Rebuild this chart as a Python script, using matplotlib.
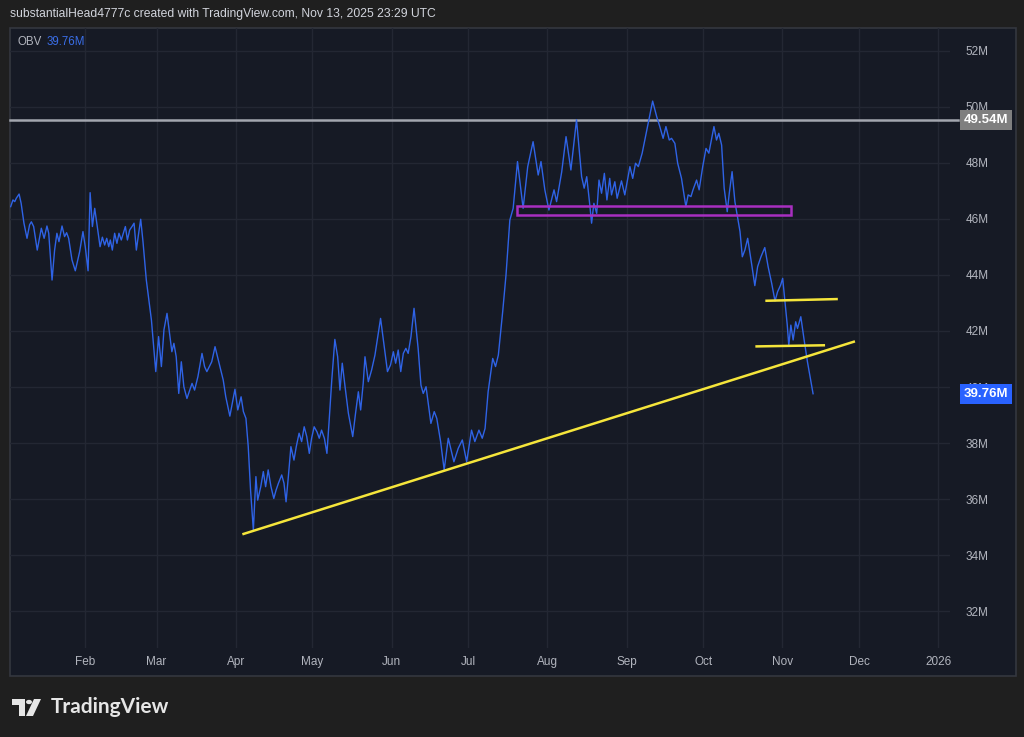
import numpy as np
import pandas as pd
import matplotlib
matplotlib.use("Agg")
import matplotlib.pyplot as plt
from matplotlib.patches import Rectangle, Polygon, Circle

# OBV, millions; x = days since 2025-01-01
days = [1.9, 2.8, 3.5, 4.1, 5.2, 6, 7.1, 8.3, 9.3, 10, 10.9, 12.3, 13.9, 15, 16.1,
        16.8, 18.1, 19.1, 20, 20.8, 22, 23, 23.8, 24.6, 25.9, 27.2, 28.9, 30.2, 31.1, 32.2,
        33, 33.9, 34.8, 35.8, 36.9, 37.8, 38.7, 39.5, 40.3, 40.9, 41.7, 42.6, 43.5, 44.3, 45.2,
        46, 46.8, 47.6, 48.5, 49.4, 50.2, 51.1, 52, 52.8, 53.7, 55, 57, 58.7, 59.8, 60.9,
        61.9, 63.1, 64.1, 65, 65.8, 66.7, 67.7, 68.7, 69.7, 70.9, 72, 72.9, 73.9, 75.2, 76.8,
        77.8, 78.7,
        80.6, 81.9, 83.8, 85.1, 86.1, 87.7, 89.7, 90.8, 92.1, 93, 94, 94.9, 95.8, 96.9, 97.9,
        98.6, 99.8, 100.8, 101.7, 102.7, 103.8, 104.9, 105.8, 106.7, 108, 108.9, 109.7, 110.6, 111.6, 112.8,
        113.7, 114.8, 115.8, 116.8, 117.8, 118.8, 119.7, 120.7, 121.8, 122.7, 123.6, 124.7, 125.7, 126.5, 127.6,
        128.8, 129.9, 130.8, 131.7, 132.8, 134.1, 135.8, 136.9, 138, 138.9, 139.9, 140.6, 141.9, 143.2, 144.5,
        145.6, 146.7, 147.8, 149.4, 150.6, 151.7, 152.6, 153.6, 154.6, 155.6, 156.6, 157.5, 158.6,
        159.8, 161.4, 162.5, 163.4, 164.5, 166.4, 167.7, 168.7, 170.2, 171.6, 173.2, 175.4, 177.1, 178.7, 180.4,
        182.3, 183.6, 185.2, 186.5, 187.6, 188.8, 190.6, 191.7, 192.8, 194.5, 195.8, 197.3, 198.6, 200.3, 202.5,
        204.3, 206.4, 208.4, 209.5, 211, 212.6, 214.6, 215.6, 217.6, 219.3, 221.2, 223.4, 225.4, 226.4, 227.4,
        228.6, 229.3, 230.2, 231.3, 232.2, 233.2, 234.3, 235.3, 236.4, 237.1, 238.4,
        239.3, 241, 242.3, 244.3, 245.4, 246.5, 247.6, 249.1, 250.8, 252.1, 253.2, 254.8, 256, 257.3, 258.4,
        259.7, 260.6, 261.9, 263, 264.5, 266.2, 267.1, 268.2, 269, 270.4, 271.4, 272.8, 274.1, 275.2, 277.2,
        278.2, 279.1, 280.2, 281.2, 282.4, 283.2, 284.3, 285.4, 286.5, 287.4, 288.3, 289.3, 290.4, 292, 293.2,
        294.3, 295.6, 297.1, 298.4, 299.8, 301.1, 302.1, 303.3, 304.1, 305, 305.9, 306.5, 307.3, 308.2, 309.2,
        309.9, 311.2, 312.5, 313.8, 316]
obv = [46.44, 46.68, 46.62, 46.74, 46.89, 46.56, 45.85, 45.31, 45.79, 45.90, 45.73, 44.89, 45.67, 45.31, 45.75,
       45.49, 43.82, 44.89, 45.49, 45.19, 45.75, 45.37, 45.51, 45.31, 44.54, 44.15, 44.83, 45.55, 45.01, 44.15,
       46.94, 45.73, 46.38, 45.73, 45.01, 45.35, 45.07, 45.31, 45.01, 45.25, 44.89, 45.49, 45.13, 45.49, 45.25,
       45.49, 45.73, 45.25, 45.61, 45.73, 45.85, 44.89, 45.49, 45.99, 45.19, 43.82, 42.39, 40.55, 41.80, 40.73,
       42.04, 42.63, 41.92, 41.26, 41.56, 41.08, 39.77, 40.90, 40.01, 39.59, 39.89, 40.13, 39.89, 40.37, 41.20,
       40.73, 40.55,
       40.90, 41.44, 40.73, 40.25, 39.65, 38.96, 39.92, 39.18, 39.65, 39.12, 38.88, 37.87, 36.32, 34.89, 36.80,
       35.96, 36.44, 36.98, 36.44, 37.04, 36.44, 36.02, 36.32, 36.56, 36.86, 36.56, 35.90, 36.80, 37.87, 37.39,
       37.87, 38.35, 38.05, 38.58, 38.23, 37.63, 38.17, 38.58, 38.40, 38.17, 38.46, 38.17, 37.63, 38.70, 40.25,
       41.70, 41.08, 39.89, 40.85, 40.01, 39.06, 38.23, 39.06, 39.83, 39.18, 40.13, 41.08, 40.19, 40.61, 41.14,
       41.80, 42.45, 41.68, 40.55, 40.79, 41.26, 40.85, 41.32, 40.55, 41.20, 41.38, 41.20, 41.80,
       42.81, 41.38, 40.07, 39.77, 40.01, 38.70, 39.12, 38.88, 38.05, 37.04, 38.17, 37.33, 37.81, 38.11, 37.33,
       38.46, 38.05, 38.46, 38.17, 38.52, 39.83, 41.02, 40.73, 41.14, 42.69, 44.00, 45.96, 46.38, 48.05, 46.38,
       47.87, 48.76, 47.57, 48.05, 47.04, 46.32, 47.04, 46.62, 47.68, 48.94, 47.75, 49.54, 47.51, 47.10, 47.51,
       46.50, 45.85, 46.56, 46.20, 47.39, 46.92, 47.63, 46.68, 47.45, 46.86, 47.33,
       46.74, 47.36, 46.86, 47.87, 47.45, 47.99, 47.87, 48.35, 49.12, 49.71, 50.21, 49.65, 49.30, 48.88, 49.30,
       48.82, 48.88, 48.70, 47.99, 47.45, 46.44, 46.86, 46.80, 47.04, 47.39, 47.04, 47.87, 48.52, 48.35, 49.30,
       48.82, 49.06, 48.64, 47.10, 46.26, 46.92, 47.69, 46.62, 46.02, 45.55, 44.65, 44.89, 45.31, 44.36, 43.62,
       44.30, 44.65, 44.98, 44.30, 43.70, 43.07, 43.40, 43.64, 43.88, 43.05, 42.21, 41.48, 42.21, 41.68, 42.33,
       42.09, 42.51, 41.68, 40.90, 39.76]

last_value = 39.76
resistance = 49.54
box_days = [200.2, 307.2]
box_vals = [46.14, 46.46]
trend_days = [92.6, 332.4]
trend_vals = [34.74, 41.63]
level1_days = [297.8, 325.2]
level1_vals = [43.08, 43.14]
level2_days = [293.9, 320.2]
level2_vals = [41.45, 41.49]

y_ticks = list(range(32, 53, 2))
month_labels = ["Feb", "Mar", "Apr", "May", "Jun", "Jul", "Aug", "Sep", "Oct", "Nov", "Dec", "2026"]
start = pd.Timestamp("2025-01-01")
month_pos = [(d - start).days for d in pd.date_range("2025-02-01", "2026-01-01", freq="MS")]

W, H = 1024, 737
BG = "#1f1f1f"
PANEL = "#161a25"
GRID = "#232733"
TXT = "#b2b5be"

plt.rcParams["font.family"] = ["Liberation Sans", "DejaVu Sans"]

def px(x, y):
    return (x / W, 1 - y / H)

fig = plt.figure(figsize=(W / 100, H / 100), dpi=100, facecolor=BG)

# chart panel
fig.add_artist(Rectangle(px(10, 676), 1006 / W, 648 / H, transform=fig.transFigure,
                         facecolor=PANEL, edgecolor="#34373f", lw=1.2, zorder=0))

ax = fig.add_axes([10 / W, 1 - 648 / H, 940 / W, 620 / H])
ax.set_facecolor("none")
for s in ax.spines.values():
    s.set_visible(False)

ax.plot(days, obv, color="#2f63e6", lw=1.0, zorder=3)
ax.plot([0, 1.008], [resistance, resistance], transform=ax.get_yaxis_transform(),
        color="#a3a6af", lw=1.8, zorder=2, clip_on=False)
ax.add_patch(Rectangle((box_days[0], box_vals[0]), box_days[1] - box_days[0], box_vals[1] - box_vals[0],
                       facecolor="none", edgecolor="#a82fc0", lw=1.8, zorder=4))
ax.plot(trend_days, trend_vals, color="#f5e53b", lw=1.8, zorder=4, solid_capstyle="butt")
ax.plot(level1_days, level1_vals, color="#f5e53b", lw=1.8, zorder=4)
ax.plot(level2_days, level2_vals, color="#f5e53b", lw=1.8, zorder=4)

ax.set_xlim(1.64, 369.6)
ax.set_ylim(30.68, 52.82)
ax.set_xticks(month_pos)
ax.set_xticklabels(month_labels)
ax.set_yticks(y_ticks)
ax.set_yticklabels([f"{v}M" for v in y_ticks])
ax.yaxis.tick_right()
ax.tick_params(axis="y", length=0, pad=11, labelsize=8.5, labelcolor=TXT)
ax.tick_params(axis="x", length=0, pad=6, labelsize=8.5, labelcolor=TXT)
ax.grid(True, color=GRID, lw=1)
ax.set_axisbelow(True)

# price labels on the scale
for val, fc in [(resistance, "#7f7f7f"), (last_value, "#2962ff")]:
    ax.annotate(f"{val:.2f}M", xy=(1.0145, val), xycoords=("axes fraction", "data"),
                ha="left", va="center", color="white", fontsize=9.5, fontweight="bold",
                annotation_clip=False, zorder=6,
                bbox=dict(boxstyle="square,pad=0.3", fc=fc, ec="none"))

# legend
fig.text(18 / W, 1 - 42 / H, "OBV", color=TXT, fontsize=8.3, va="center")
fig.text(47 / W, 1 - 42 / H, f"{last_value:.2f}M", color="#3a6ee8", fontsize=8.3, va="center")

# header
fig.text(10 / W, 1 - 14 / H, "substantialHead4777c created with TradingView.com, Nov 13, 2025 23:29 UTC",
         color="#d1d4dc", fontsize=8.7, va="center")

# TradingView logo
logo = "#e6e6e6"
fig.add_artist(Polygon([px(12, 699), px(25, 699), px(25, 716), px(19, 716), px(19, 705), px(12, 705)],
                       closed=True, transform=fig.transFigure, fc=logo, ec="none"))
fig.add_artist(Circle(px(29, 702), 3 / W, transform=fig.transFigure, fc=logo, ec="none"))
fig.add_artist(Polygon([px(34, 699), px(41, 699), px(33, 716), px(26, 716)],
                       closed=True, transform=fig.transFigure, fc=logo, ec="none"))
fig.text(51 / W, 1 - 707 / H, "TradingView", color=logo, fontsize=15, fontweight="bold",
         va="center", family=["Lato", "DejaVu Sans"])

fig.savefig("out.png", dpi=100, facecolor=BG)
